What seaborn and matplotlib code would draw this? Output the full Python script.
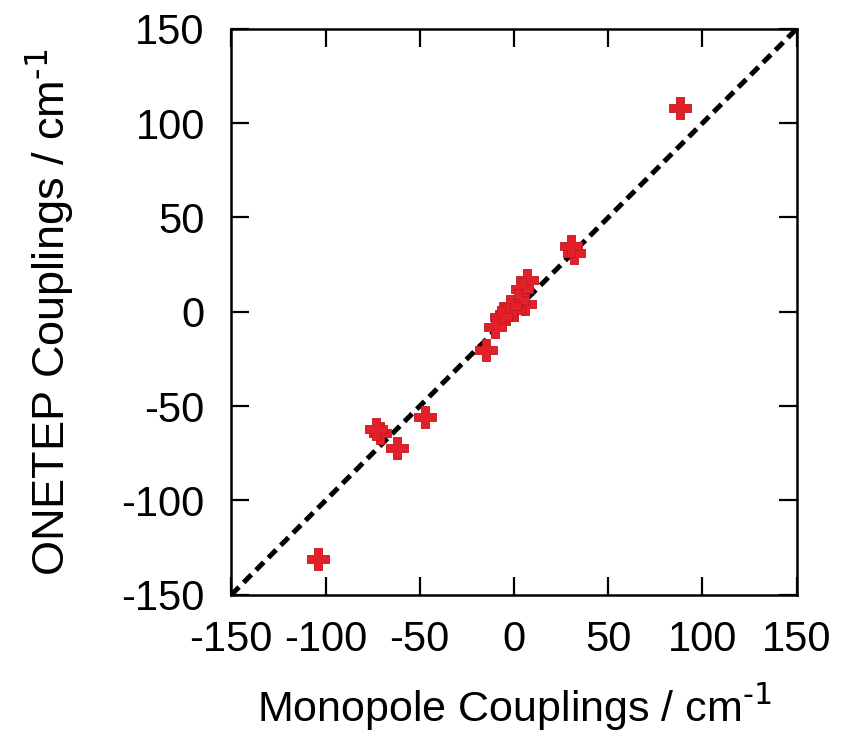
import numpy as np
import pandas as pd
import seaborn as sns
import matplotlib.pyplot as plt

# Coupling values (cm^-1)
monopole = [88, 32, 30, 7, 4, 6, 2, 0, -2, -4, -7, -10, -15,
            -71, -73, -62, -47, -104]
onetep = [108, 31, 35, 17, 12, 4, 6, 1, 3, -1, -3, -8, -20,
          -64, -62, -72, -56, -131]
diag = [-150, 150]
ticks = [-150, -100, -50, 0, 50, 100, 150]

df = pd.DataFrame({'monopole': monopole, 'onetep': onetep})
line = pd.DataFrame({'x': diag, 'y': diag})

sns.set_style('ticks')
plt.rcParams['font.family'] = ['Liberation Sans', 'DejaVu Sans']
plt.rcParams['axes.unicode_minus'] = False
plt.rcParams['text.color'] = 'black'
plt.rcParams['axes.labelcolor'] = 'black'
plt.rcParams['xtick.color'] = 'black'
plt.rcParams['ytick.color'] = 'black'
plt.rcParams['axes.edgecolor'] = 'black'

fig = plt.figure(figsize=(8.44, 7.38), dpi=100)
ax = fig.add_axes([0.274, 0.194, 0.670, 0.767])

sns.lineplot(data=line, x='x', y='y', ax=ax, color='black', lw=3.6,
             dashes=False, linestyle=(0, (2.2, 1.3)), zorder=2)
sns.scatterplot(data=df, x='monopole', y='onetep', ax=ax, marker='P',
                s=240, color='#e3202a', edgecolor='#c0181f', linewidth=0.6,
                zorder=3)

ax.set_xlim(-150, 150)
ax.set_ylim(-150, 150)
ax.set_xticks(ticks)
ax.set_yticks(ticks)
ax.tick_params(direction='in', length=13, width=1.6, labelsize=30,
               top=True, right=True)
ax.tick_params(axis='x', pad=18)
ax.tick_params(axis='y', pad=19)
for sp in ax.spines.values():
    sp.set_linewidth(1.8)

ax.set_xlabel('Monopole Couplings / cm$^{\\text{-}1}$', fontsize=31, labelpad=16)
ax.set_ylabel('ONETEP Couplings / cm$^{\\text{-}1}$', fontsize=32.5)
ax.yaxis.set_label_coords(-0.275, 0.5)

fig.savefig('out.png', dpi=100)
